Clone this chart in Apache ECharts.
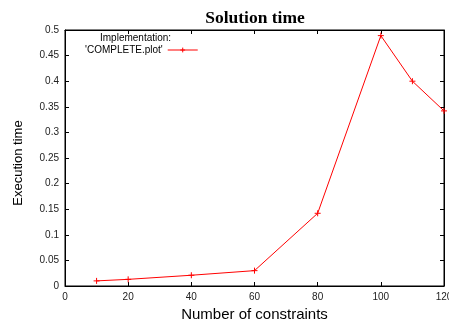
<!DOCTYPE html>
<html>
<head>
  <meta charset="UTF-8">
  <title>Solution time</title>
  <script src="https://cdn.jsdelivr.net/npm/echarts@6/dist/echarts.min.js"></script>
  <style>
    html, body { margin: 0; padding: 0; background: #fff; }
    #chart { width: 449px; height: 320px; }
  </style>
</head>
<body>
<div id="chart"></div>
<script>
  // data
  var constraints = [10, 20, 40, 60, 80, 100, 110, 120];
  var execTime = [0.01, 0.013, 0.021, 0.030, 0.142, 0.489, 0.400, 0.342];
  var seriesName = "'COMPLETE.plot'";

  var plus = 'path://M0,5L10,5M5,0L5,10';
  var tickFont = { fontFamily: 'Liberation Sans', fontSize: 10, color: '#222' };
  var frame = { show: true, onZero: false, lineStyle: { color: '#000' } };
  var ticks = { show: true, inside: true, length: 4, lineStyle: { color: '#000' } };

  var chart = echarts.init(document.getElementById('chart'));
  chart.setOption({
    animation: false,
    title: {
      text: 'Solution time',
      left: 250, textAlign: 'center', top: 4,
      textStyle: { fontFamily: 'Liberation Serif', fontWeight: 'bold', fontSize: 17.5, color: '#000' }
    },
    grid: {
      left: 65, right: 5, top: 30, bottom: 34, outerBoundsMode: 'none',
      show: true, borderColor: '#000', borderWidth: 1
    },
    legend: {
      data: [seriesName],
      left: 80, top: 40,
      align: 'right',
      itemWidth: 30, itemHeight: 6,
      lineStyle: { width: 1 },
      itemStyle: { borderWidth: 1 },
      textStyle: { fontFamily: 'Liberation Sans', fontSize: 10, color: '#000' }
    },
    graphic: [{
      type: 'text', left: 100, top: 33,
      style: { text: 'Implementation:', font: '10px "Liberation Sans"', fill: '#000' }
    }],
    xAxis: [{
      type: 'value', min: 0, max: 120, interval: 20,
      name: 'Number of constraints', nameLocation: 'middle', nameGap: 20,
      nameTextStyle: { fontFamily: 'Liberation Sans', fontSize: 15, color: '#000' },
      axisLine: frame, axisTick: ticks,
      axisLabel: Object.assign({ margin: 6 }, tickFont),
      splitLine: { show: false }
    }, {
      type: 'value', show: true, position: 'top', min: 0, max: 120, interval: 20,
      axisLine: frame, axisTick: ticks,
      axisLabel: { show: false }, splitLine: { show: false }
    }],
    yAxis: [{
      type: 'value', min: 0, max: 0.5, interval: 0.05,
      name: 'Execution time', nameLocation: 'middle', nameGap: 40,
      nameTextStyle: { fontFamily: 'Liberation Sans', fontSize: 13, color: '#000', padding: [0, 10, 0, 0] },
      axisLine: frame, axisTick: ticks,
      axisLabel: Object.assign({ margin: 6 }, tickFont),
      splitLine: { show: false }
    }, {
      type: 'value', show: true, position: 'right', min: 0, max: 0.5, interval: 0.05,
      axisLine: frame, axisTick: ticks,
      axisLabel: { show: false }, splitLine: { show: false }
    }],
    series: [{
      name: seriesName,
      type: 'line',
      data: constraints.map(function (c, i) { return [c, execTime[i]]; }),
      symbol: plus, symbolSize: 6,
      showSymbol: true,
      lineStyle: { color: '#ff0000', width: 1 },
      itemStyle: { color: '#ff0000', borderColor: '#ff0000', borderWidth: 1 },
      clip: false
    }]
  });
</script>
</body>
</html>
